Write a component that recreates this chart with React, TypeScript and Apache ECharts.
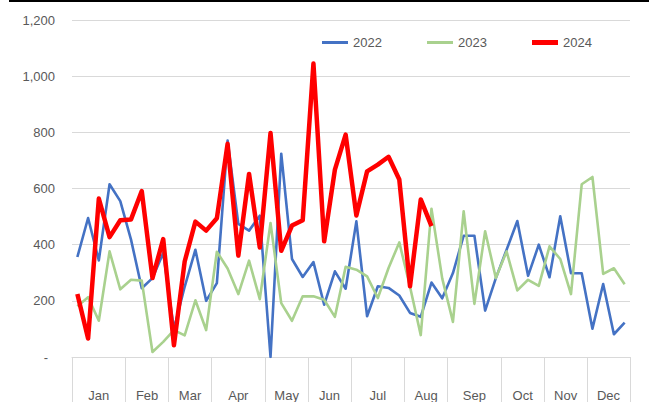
import React, { useEffect, useRef } from "react";
import * as echarts from "echarts";

const weeks: string[] = Array.from({ length: 52 }, (_, i) => `W${i + 1}`);
const monthNames = ["Jan", "Feb", "Mar", "Apr", "May", "Jun", "Jul", "Aug", "Sep", "Oct", "Nov", "Dec"];
const monthWeeks = [5, 4, 4, 5, 4, 4, 5, 4, 5, 4, 4, 4];

const s2022 = [356, 495, 344, 615, 555, 418, 245, 281, 370, 100, 250, 382, 200, 263, 771, 474, 450, 503, 0, 724, 349, 285, 338, 186, 305, 243, 483, 145, 252, 246, 219, 157, 143, 265, 209, 299, 432, 432, 165, 281, 382, 484, 289, 400, 284, 501, 298, 298, 101, 260, 81, 122];
const s2023 = [181, 213, 129, 376, 241, 275, 272, 18, 54, 96, 77, 202, 96, 375, 315, 224, 343, 206, 477, 192, 129, 216, 216, 204, 143, 321, 311, 287, 210, 317, 408, 250, 78, 528, 280, 125, 519, 189, 448, 281, 376, 237, 275, 253, 394, 349, 224, 615, 641, 296, 316, 259];
const s2024 = [224, 66, 564, 427, 487, 490, 591, 281, 420, 42, 340, 482, 450, 494, 759, 361, 652, 390, 798, 378, 468, 487, 1045, 412, 667, 792, 504, 661, 685, 713, 632, 252, 561, 466];

const FONT = "Liberation Sans";
const TXT = "#595959";
const GRID = "#d9d9d9";

export default function App() {
  const ref = useRef<HTMLDivElement>(null);
  useEffect(() => {
    document.body.style.margin = "0";
    const chart = echarts.init(ref.current as HTMLDivElement, null, { renderer: "svg" });
    const boundaries: number[] = [0];
    const centers: number[] = [];
    let acc = 0;
    monthWeeks.forEach((w) => {
      centers.push(acc + w);
      acc += 2 * w;
      boundaries.push(acc);
    });
    const halfLabels = Array.from({ length: acc + 1 }, (_, i) => {
      const m = centers.indexOf(i);
      return m >= 0 ? monthNames[m] : "";
    });
    const legendBase = (name: string, left: number, h: number) => ({
      data: [name],
      left,
      top: 31,
      icon: "rect",
      itemWidth: 26,
      itemHeight: h,
      itemGap: 0,
      textStyle: { color: TXT, fontSize: 13, fontFamily: FONT },
    });
    chart.setOption({
      animation: false,
      grid: { left: 72, right: 19, top: 20, bottom: 45, containLabel: false },
      legend: [legendBase("2022", 317, 3), legendBase("2023", 422, 3), legendBase("2024", 527, 5)],
      graphic: [
        { type: "line", shape: { x1: 9, y1: 1, x2: 649, y2: 1 }, style: { stroke: "#000", lineWidth: 2 } },
      ],
      xAxis: [
        { type: "category", data: weeks, boundaryGap: true, show: false },
        {
          type: "category",
          data: halfLabels,
          boundaryGap: false,
          position: "bottom",
          axisLine: { show: true, lineStyle: { color: GRID, width: 1 } },
          axisTick: {
            show: true,
            interval: (i: number) => boundaries.includes(i),
            length: 50,
            lineStyle: { color: GRID, width: 1 },
          },
          axisLabel: {
            interval: (i: number) => centers.includes(i),
            margin: 32,
            color: TXT,
            fontSize: 13,
            fontFamily: FONT,
          },
          splitLine: { show: false },
        },
      ],
      yAxis: {
        type: "value",
        min: 0,
        max: 1200,
        interval: 200,
        axisLine: { show: false },
        axisTick: { show: false },
        splitLine: { lineStyle: { color: GRID, width: 1 } },
        axisLabel: {
          margin: 17,
          color: TXT,
          fontSize: 13,
          fontFamily: FONT,
          formatter: (v: number) => (v === 0 ? "{d|-}" : v.toLocaleString("en-US")),
          rich: { d: { padding: [0, 7, 0, 0], color: TXT, fontSize: 13, fontFamily: FONT } },
        },
      },
      series: [
        { name: "2022", type: "line", data: s2022, showSymbol: false, symbol: "none", color: "#4472C4", lineStyle: { width: 2.6, color: "#4472C4", join: "round" }, xAxisIndex: 0 },
        { name: "2023", type: "line", data: s2023, showSymbol: false, symbol: "none", color: "#A9D18E", lineStyle: { width: 2.6, color: "#A9D18E", join: "round" }, xAxisIndex: 0 },
        { name: "2024", type: "line", data: s2024, showSymbol: false, symbol: "none", color: "#FF0000", lineStyle: { width: 4.5, color: "#FF0000", join: "round" }, xAxisIndex: 0 },
      ],
    });
    return () => chart.dispose();
  }, []);
  return <div ref={ref} style={{ width: 649, height: 402 }} />;
}
